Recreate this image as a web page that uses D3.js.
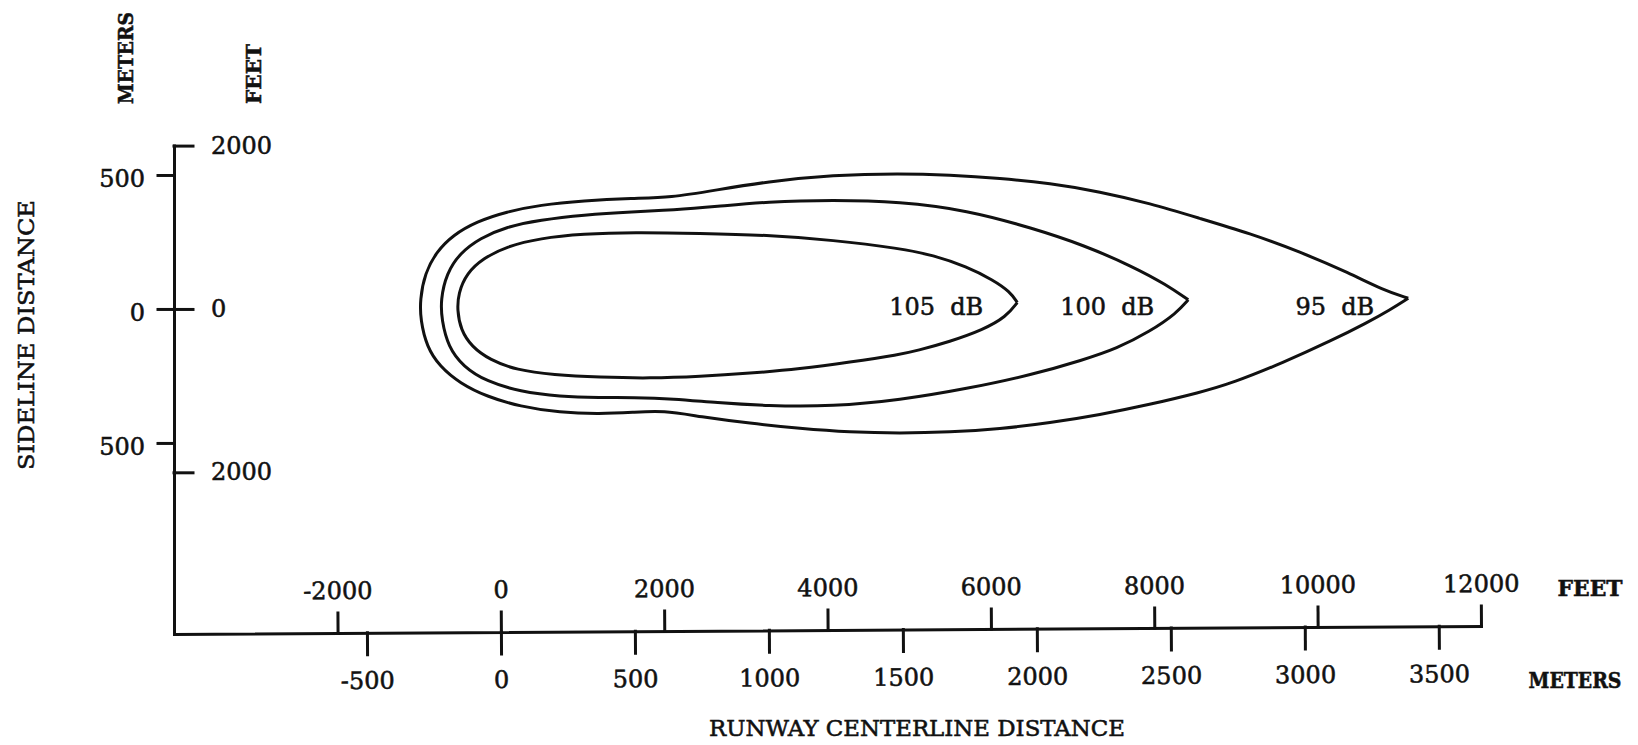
<!DOCTYPE html>
<html>
<head>
<meta charset="utf-8">
<script src="https://cdn.jsdelivr.net/npm/d3@7"></script>
<style>
  html, body { margin: 0; padding: 0; background: #fff; }
  svg { display: block; background: #fff; }
  text { font-family: "DejaVu Serif", "Liberation Serif", serif; fill: #111; stroke: #111; stroke-width: 0.55; }
  .axis .domain, .axis .tick line { stroke: #111; stroke-width: 3; stroke-linecap: square; }
  .contour { fill: none; stroke: #111; stroke-width: 3; stroke-linejoin: round; }
</style>
</head>
<body>
<svg id="chart" width="1638" height="745"></svg>
<script>
// Metres per foot
const FT = 0.3048;

// Runway centreline axis: feet above the line, metres below
const feetTicksX  = [-2000, 0, 2000, 4000, 6000, 8000, 10000, 12000];
const meterTicksX = [-500, 0, 500, 1000, 1500, 2000, 2500, 3000, 3500];

// Sideline axis: metres on the left, feet on the right
const meterTicksY = [500, 0, -500];
const feetTicksY  = [2000, 0, -2000];

// Noise contour levels (dB) and their outlines as [centreline m, sideline m],
// each traced from the downrange tip, across the top, round the start of roll and back
const levels = [105, 100, 95];

const contour105 = [
  [1927, 24], [1899, 65], [1837, 108], [1738, 158], [1613, 201], [1489, 226],
  [1240, 257], [991, 276], [743, 282], [494, 286], [307, 280], [146, 264],
  [21, 233], [-66, 189], [-128, 133], [-159, 58], [-163, -4], [-150, -78],
  [-109, -141], [-41, -190], [58, -228], [195, -246], [369, -255], [556, -259],
  [743, -252], [929, -240], [1116, -224], [1302, -199], [1489, -170],
  [1551, -156], [1675, -122], [1799, -78], [1886, -29], [1927, 24]
];

const contour100 = [
  [2565, 34], [2484, 90], [2359, 158], [2173, 239], [1986, 301], [1738, 369],
  [1489, 400], [1240, 407], [991, 400], [805, 382], [643, 369], [494, 363],
  [307, 351], [146, 332], [21, 307], [-78, 264], [-153, 208], [-203, 133],
  [-225, 34], [-221, -41], [-197, -141], [-141, -215], [-53, -271], [71, -308],
  [220, -327], [369, -331], [494, -330], [643, -335], [805, -350], [991, -362],
  [1240, -364], [1489, -340], [1738, -298], [1985, -245], [2173, -190],
  [2298, -148], [2422, -84], [2521, -16], [2565, 34]
];

const contour95 = [
  [3386, 40], [3292, 71], [3168, 133], [2981, 214], [2795, 282], [2608, 338],
  [2422, 394], [2235, 438], [2049, 469], [1862, 488], [1675, 500], [1489, 506],
  [1240, 500], [991, 475], [805, 444], [631, 415], [494, 413], [307, 404],
  [146, 388], [21, 363], [-91, 326], [-178, 276], [-240, 214], [-284, 133],
  [-302, 34], [-300, -41], [-277, -141], [-228, -215], [-153, -277], [-53, -327],
  [71, -364], [220, -387], [369, -392], [494, -386], [606, -379], [743, -402],
  [929, -427], [1116, -446], [1302, -460], [1489, -464], [1675, -460],
  [1862, -448], [2049, -425], [2235, -395], [2420, -357], [2608, -312],
  [2731, -276], [2918, -201], [3104, -116], [3231, -52], [3317, -4], [3386, 40]
];

const contours = [contour105, contour100, contour95];

// ---- scales (metres and feet share the same pixel range) ----
const xM = d3.scaleLinear().domain([-1220, 12000 * FT]).range([174, 1481]);
const xF = d3.scaleLinear().domain(xM.domain().map(m => m / FT)).range(xM.range());
const yM = d3.scaleLinear().domain([-1213, 2000 * FT]).range([634, 145.6]);
const yF = d3.scaleLinear().domain(yM.domain().map(m => m / FT)).range(yM.range());

const svg = d3.select("#chart");
const FONT = "\"DejaVu Serif\", \"Liberation Serif\", serif";

function styleAxis(g, size) {
  g.attr("font-family", FONT).attr("font-size", size).classed("axis", true);
  g.selectAll(".tick text").attr("fill", "#111");
}

// ---- horizontal axis (slightly skewed baseline, as drawn) ----
const skew = -0.35;
const xAxisG = svg.append("g")
  .attr("transform", `rotate(${skew}, ${xM.range()[0]}, ${yM.range()[0]}) translate(0, ${yM.range()[0]})`);

const feetAxis = xAxisG.append("g")
  .call(d3.axisTop(xF).tickValues(feetTicksX).tickSize(20).tickSizeOuter(0)
    .tickPadding(14).tickFormat(d => String(d)));
styleAxis(feetAxis, 24);

const meterAxis = xAxisG.append("g")
  .call(d3.axisBottom(xM).tickValues(meterTicksX).tickSize(22).tickSizeOuter(0)
    .tickPadding(17).tickFormat(d => String(d)));
styleAxis(meterAxis, 24);
meterAxis.select(".domain").remove();

// ---- vertical axis ----
const leftAxis = svg.append("g")
  .attr("transform", `translate(${xM.range()[0]},0)`)
  .call(d3.axisLeft(yM).tickValues(meterTicksY).tickSize(16).tickSizeOuter(0)
    .tickPadding(13).tickFormat(d => String(Math.abs(d))));
styleAxis(leftAxis, 24);
leftAxis.selectAll(".tick text").attr("dy", "0.5em");

const rightAxis = svg.append("g")
  .attr("transform", `translate(${xM.range()[0]},0)`)
  .call(d3.axisRight(yF).tickValues(feetTicksY).tickSize(19).tickSizeOuter(0)
    .tickPadding(18).tickFormat(d => String(Math.abs(d))));
styleAxis(rightAxis, 24);
rightAxis.select(".domain").remove();

// ---- contours (B-spline smoothing; open path keeps the pointed tip) ----
const line = d3.line()
  .x(d => xM(d[0]))
  .y(d => yM(d[1]))
  .curve(d3.curveBasis);

svg.append("g").selectAll("path")
  .data(contours)
  .join("path")
  .attr("class", "contour")
  .attr("d", line);

// level labels sit just inside each contour's downrange tip
svg.append("g").selectAll("text")
  .data(levels)
  .join("text")
  .attr("x", (d, i) => xM(contours[i][0][0]) - 34)
  .attr("y", yM(0) + 6.5)
  .attr("text-anchor", "end")
  .attr("font-size", 24)
  .style("white-space", "pre")
  .text(d => `${d}  dB`);

// ---- axis titles and unit labels ----
function vText(x, y, str, opts) {
  const g = svg.append("g").attr("transform", `translate(${x},${y}) rotate(-90)`);
  const t = g.append("text")
    .attr("x", 0).attr("y", opts.size * 0.36)
    .attr("text-anchor", opts.anchor)
    .attr("font-size", opts.size)
    .attr("font-weight", opts.weight || "normal")
    .text(str);
  if (opts.len) t.attr("textLength", opts.len).attr("lengthAdjust", "spacingAndGlyphs");
}

function hText(x, y, str, opts) {
  const t = svg.append("text")
    .attr("x", x).attr("y", y + opts.size * 0.36)
    .attr("text-anchor", "middle")
    .attr("font-size", opts.size)
    .attr("font-weight", opts.weight || "normal")
    .text(str);
  if (opts.len) t.attr("textLength", opts.len).attr("lengthAdjust", "spacingAndGlyphs");
}

vText(125, 104, "METERS", { size: 21, anchor: "start", weight: "bold", len: 92 });
vText(253, 104, "FEET", { size: 21, anchor: "start", weight: "bold", len: 60 });
vText(26, 335, "SIDELINE DISTANCE", { size: 22, anchor: "middle", len: 270 });

hText(917, 728, "RUNWAY CENTERLINE DISTANCE", { size: 22, len: 416 });
hText(1590, 588, "FEET", { size: 22, weight: "bold", len: 65 });
hText(1575, 680, "METERS", { size: 22, weight: "bold", len: 93 });
</script>
</body>
</html>
